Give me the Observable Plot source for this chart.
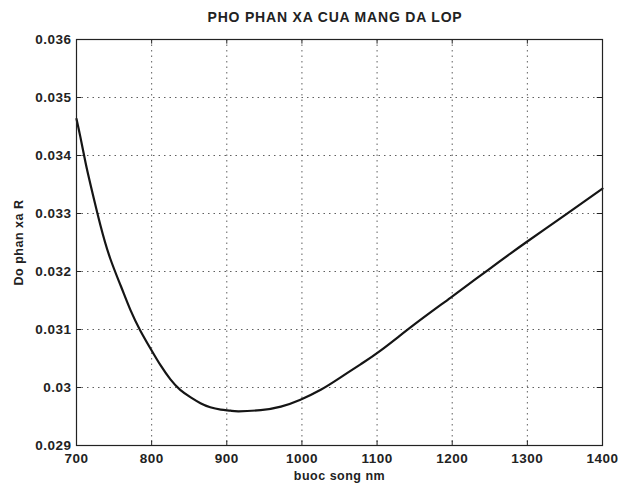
<!DOCTYPE html>
<html>
<head>
<meta charset="utf-8">
<script src="https://cdn.jsdelivr.net/npm/d3@7"></script>
<script src="https://cdn.jsdelivr.net/npm/@observablehq/plot@0.6"></script>
<style>
  html, body { margin: 0; padding: 0; background: #ffffff; }
  #wrap { position: relative; width: 620px; height: 486px; font-family: "Liberation Sans", Arial, sans-serif; }
  #title { position: absolute; left: 72px; width: 526px; top: 9px; text-align: center;
           font-size: 14px; font-weight: bold; color: #222; letter-spacing: 0.8px; }
  #chart { position: absolute; left: 0; top: 30px; }
  #chart svg text { letter-spacing: 0.5px; }
</style>
</head>
<body>
<div id="wrap">
  <div id="title">PHO PHAN XA CUA MANG DA LOP</div>
  <div id="chart"></div>
</div>
<script>
const xLabel = "buoc song nm";
const yLabel = "Do phan xa R";

const wavelength = [700, 705, 712, 719, 732, 745, 759, 772, 785, 799, 812, 825, 838, 852, 865, 878, 892, 905, 916, 945, 972, 998, 1025, 1051, 1078, 1105, 1151, 1198, 1248, 1298, 1351, 1400];
const reflectance = [0.03463, 0.03433, 0.03388, 0.03348, 0.03279, 0.03222, 0.03175, 0.03133, 0.03098, 0.03066, 0.03038, 0.03014, 0.02996, 0.02983, 0.02973, 0.02966, 0.02962, 0.02960, 0.02959, 0.02961, 0.02967, 0.02979, 0.02996, 0.03017, 0.03040, 0.03064, 0.03110, 0.03155, 0.03203, 0.03250, 0.03298, 0.03343];

const xTicks = [700, 800, 900, 1000, 1100, 1200, 1300, 1400];
const yTicks = [0.029, 0.030, 0.031, 0.032, 0.033, 0.034, 0.035, 0.036];
const yTickLabels = ["0.029", "0.03", "0.031", "0.032", "0.033", "0.034", "0.035", "0.036"];

const data = wavelength.map((w, i) => ({w, r: reflectance[i]}));

const chart = Plot.plot({
  width: 620,
  height: 456,
  marginTop: 9,
  marginLeft: 76,
  marginRight: 18,
  marginBottom: 41,
  style: {fontFamily: "'Liberation Sans', Arial, sans-serif", fontSize: "13.5px", fontWeight: "bold", color: "#222", background: "#ffffff"},
  x: {domain: [700, 1400]},
  y: {domain: [0.029, 0.036]},
  marks: [
    Plot.gridX(xTicks, {stroke: "#444", strokeOpacity: 0.85, strokeDasharray: "1.5,4"}),
    Plot.gridY(yTicks, {stroke: "#444", strokeOpacity: 0.85, strokeDasharray: "1.5,4"}),
    Plot.axisX(xTicks, {tickSize: 0, tickPadding: 8, label: null, tickFormat: d => String(d)}),
    Plot.axisY(yTicks, {tickSize: 0, tickPadding: 5, label: null, tickFormat: d => yTickLabels[yTicks.indexOf(d)]}),
    Plot.ruleX(xTicks, {x: d => d, y1: 0.029, y2: 0.02908, stroke: "#222"}),
    Plot.ruleX(xTicks, {x: d => d, y1: 0.03592, y2: 0.036, stroke: "#222"}),
    Plot.ruleY(yTicks, {y: d => d, x1: 700, x2: 707, stroke: "#222"}),
    Plot.ruleY(yTicks, {y: d => d, x1: 1393, x2: 1400, stroke: "#222"}),
    Plot.line(data, {x: "w", y: "r", curve: "natural", stroke: "#151515", strokeWidth: 2.2}),
    Plot.frame({stroke: "#222", strokeWidth: 1.2}),
    Plot.text([xLabel], {frameAnchor: "bottom", dy: 34, fontSize: 12.5, fontWeight: "bold", fill: "#222"}),
    Plot.text([yLabel], {frameAnchor: "left", dx: -58, rotate: -90, textAnchor: "middle", fontSize: 12.5, fontWeight: "bold", fill: "#222"})
  ]
});
document.getElementById("chart").appendChild(chart);
</script>
</body>
</html>
